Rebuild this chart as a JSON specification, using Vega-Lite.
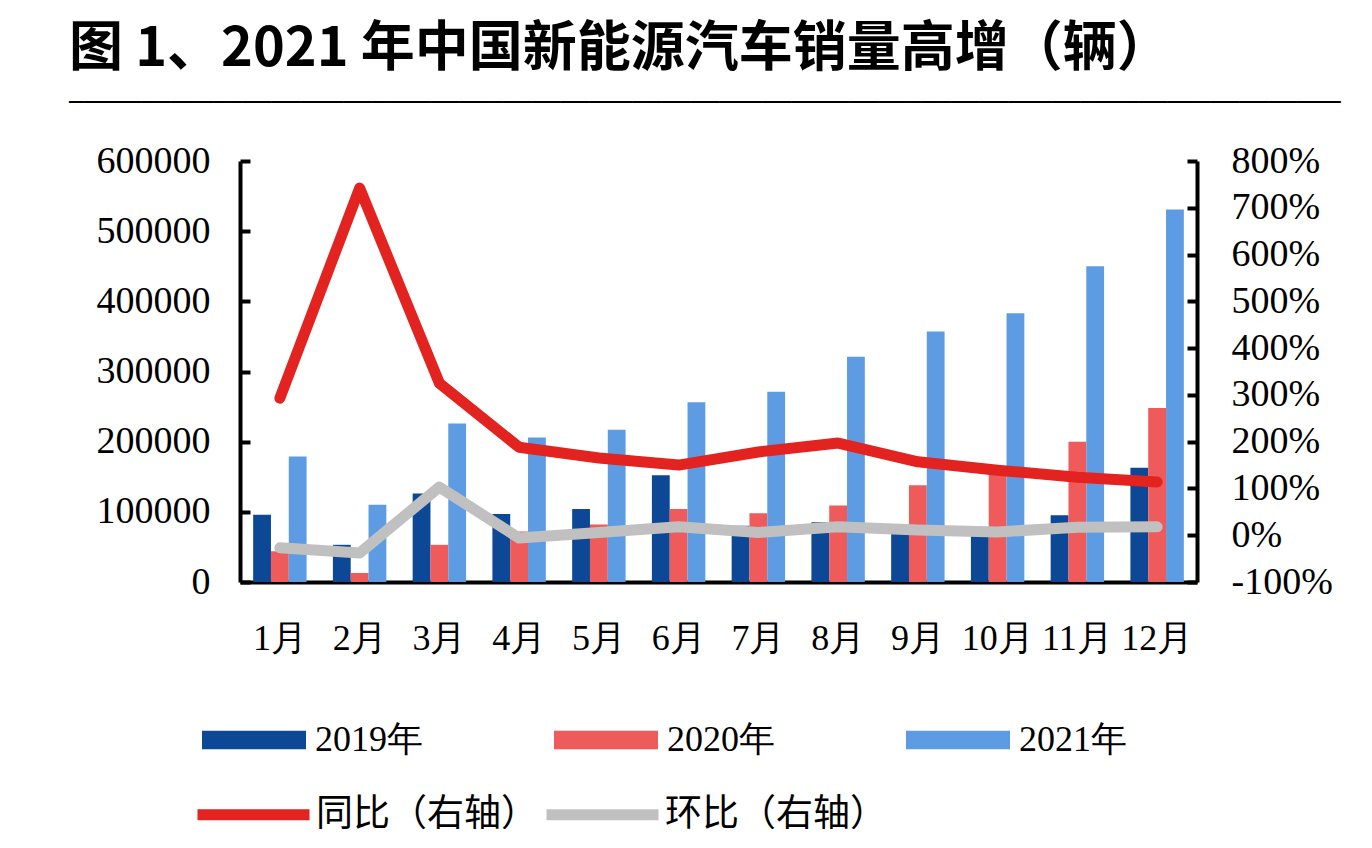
{
  "$schema": "https://vega.github.io/schema/vega-lite/v6.json",
  "width": 957,
  "height": 421,
  "autosize": {"type": "none"},
  "padding": {"left": 240, "top": 161, "right": 175, "bottom": 266},
  "background": "white",
  "config": {"view": {"stroke": null}, "font": "Liberation Serif"},
  "title": {
    "text": "图 1、2021 年中国新能源汽车销量高增（辆）",
    "subtitle": "────────────────────────────────────────────────────────────────────────────────────────",
    "anchor": "start",
    "frame": "group",
    "orient": "top",
    "dx": -171,
    "offset": 27,
    "font": "Noto Sans CJK SC",
    "fontSize": 54,
    "fontWeight": "bold",
    "color": "#000000",
    "subtitleFont": "DejaVu Sans Mono",
    "subtitleFontSize": 24,
    "subtitleColor": "#000000",
    "subtitlePadding": 14
  },
  "datasets": {
    "bars": [
      {"month": "1月", "year": "2019年", "sales": 96000},
      {"month": "2月", "year": "2019年", "sales": 53000},
      {"month": "3月", "year": "2019年", "sales": 126000},
      {"month": "4月", "year": "2019年", "sales": 97000},
      {"month": "5月", "year": "2019年", "sales": 104000},
      {"month": "6月", "year": "2019年", "sales": 152000},
      {"month": "7月", "year": "2019年", "sales": 80000},
      {"month": "8月", "year": "2019年", "sales": 85000},
      {"month": "9月", "year": "2019年", "sales": 80000},
      {"month": "10月", "year": "2019年", "sales": 75000},
      {"month": "11月", "year": "2019年", "sales": 95000},
      {"month": "12月", "year": "2019年", "sales": 163000},
      {"month": "1月", "year": "2020年", "sales": 44000},
      {"month": "2月", "year": "2020年", "sales": 13000},
      {"month": "3月", "year": "2020年", "sales": 53000},
      {"month": "4月", "year": "2020年", "sales": 72000},
      {"month": "5月", "year": "2020年", "sales": 82000},
      {"month": "6月", "year": "2020年", "sales": 104000},
      {"month": "7月", "year": "2020年", "sales": 98000},
      {"month": "8月", "year": "2020年", "sales": 109000},
      {"month": "9月", "year": "2020年", "sales": 138000},
      {"month": "10月", "year": "2020年", "sales": 160000},
      {"month": "11月", "year": "2020年", "sales": 200000},
      {"month": "12月", "year": "2020年", "sales": 248000},
      {"month": "1月", "year": "2021年", "sales": 179000},
      {"month": "2月", "year": "2021年", "sales": 110000},
      {"month": "3月", "year": "2021年", "sales": 226000},
      {"month": "4月", "year": "2021年", "sales": 206000},
      {"month": "5月", "year": "2021年", "sales": 217000},
      {"month": "6月", "year": "2021年", "sales": 256000},
      {"month": "7月", "year": "2021年", "sales": 271000},
      {"month": "8月", "year": "2021年", "sales": 321000},
      {"month": "9月", "year": "2021年", "sales": 357000},
      {"month": "10月", "year": "2021年", "sales": 383000},
      {"month": "11月", "year": "2021年", "sales": 450000},
      {"month": "12月", "year": "2021年", "sales": 531000}
    ],
    "lines": [
      {"month": "1月", "series": "同比（右轴）", "pct": 2.93},
      {"month": "2月", "series": "同比（右轴）", "pct": 7.42},
      {"month": "3月", "series": "同比（右轴）", "pct": 3.25},
      {"month": "4月", "series": "同比（右轴）", "pct": 1.88},
      {"month": "5月", "series": "同比（右轴）", "pct": 1.65},
      {"month": "6月", "series": "同比（右轴）", "pct": 1.5},
      {"month": "7月", "series": "同比（右轴）", "pct": 1.78},
      {"month": "8月", "series": "同比（右轴）", "pct": 1.97},
      {"month": "9月", "series": "同比（右轴）", "pct": 1.57},
      {"month": "10月", "series": "同比（右轴）", "pct": 1.39},
      {"month": "11月", "series": "同比（右轴）", "pct": 1.24},
      {"month": "12月", "series": "同比（右轴）", "pct": 1.14},
      {"month": "1月", "series": "环比（右轴）", "pct": -0.27},
      {"month": "2月", "series": "环比（右轴）", "pct": -0.38},
      {"month": "3月", "series": "环比（右轴）", "pct": 1.03},
      {"month": "4月", "series": "环比（右轴）", "pct": -0.06},
      {"month": "5月", "series": "环比（右轴）", "pct": 0.06},
      {"month": "6月", "series": "环比（右轴）", "pct": 0.18},
      {"month": "7月", "series": "环比（右轴）", "pct": 0.06},
      {"month": "8月", "series": "环比（右轴）", "pct": 0.18},
      {"month": "9月", "series": "环比（右轴）", "pct": 0.11},
      {"month": "10月", "series": "环比（右轴）", "pct": 0.07},
      {"month": "11月", "series": "环比（右轴）", "pct": 0.17},
      {"month": "12月", "series": "环比（右轴）", "pct": 0.18}
    ]
  },
  "layer": [
    {
      "data": {"name": "bars"},
      "mark": {"type": "bar"},
      "encoding": {
        "x": {
          "field": "month", "type": "nominal",
          "sort": ["1月","2月","3月","4月","5月","6月","7月","8月","9月","10月","11月","12月"],
          "scale": {"paddingInner": 0.33, "paddingOuter": 0.165},
          "axis": {
            "title": null, "orient": "bottom", "labelAngle": 0,
            "ticks": false, "domainColor": "#000000", "domainWidth": 4,
            "labelFont": "Liberation Serif", "labelFontSize": 36, "labelColor": "#000000",
            "labelPadding": 39, "labelBaseline": "top"
          }
        },
        "xOffset": {"field": "year", "type": "nominal", "sort": ["2019年","2020年","2021年"], "scale": {"paddingInner": 0, "paddingOuter": 0}},
        "y": {
          "field": "sales", "type": "quantitative",
          "scale": {"domain": [0, 600000], "nice": false, "zero": true},
          "axis": {
            "title": null, "orient": "left", "grid": false,
            "values": [0,100000,200000,300000,400000,500000,600000],
            "format": "d",
            "domainColor": "#000000", "domainWidth": 4,
            "tickColor": "#000000", "tickWidth": 4, "tickSize": -10,
            "labelFont": "Liberation Serif", "labelFontSize": 38, "labelColor": "#000000",
            "labelPadding": 40
          }
        },
        "fill": {
          "field": "year", "type": "nominal",
          "scale": {"domain": ["2019年","2020年","2021年"], "range": ["#0D4896","#EF5A5B","#5D9CE2"]},
          "legend": {
            "title": null, "orient": "none", "legendX": -38, "legendY": 527,
            "direction": "horizontal", "columns": 3, "columnPadding": 131,
            "padding": 0, "symbolType": "M-1,-0.18H1V0.18H-1Z", "symbolSize": 10816,
            "symbolStrokeWidth": 0, "symbolOffset": 0, "labelOffset": 9,
            "labelFont": "Liberation Serif", "labelFontSize": 36, "labelColor": "#000000",
            "labelLimit": 400
          }
        }
      }
    },
    {
      "data": {"name": "lines"},
      "mark": {"type": "line", "strokeWidth": 11, "strokeCap": "round", "strokeJoin": "round"},
      "encoding": {
        "x": {
          "field": "month", "type": "nominal",
          "sort": ["1月","2月","3月","4月","5月","6月","7月","8月","9月","10月","11月","12月"]
        },
        "y": {
          "field": "pct", "type": "quantitative",
          "scale": {"domain": [-1, 8], "nice": false, "zero": false},
          "axis": {
            "title": null, "orient": "right", "grid": false,
            "values": [-1,0,1,2,3,4,5,6,7,8],
            "labelExpr": "round(datum.value*100) + '%'",
            "domainColor": "#000000", "domainWidth": 4,
            "tickColor": "#000000", "tickWidth": 4, "tickSize": -10,
            "labelFont": "Liberation Serif", "labelFontSize": 38, "labelColor": "#000000",
            "labelPadding": 44
          }
        },
        "stroke": {
          "field": "series", "type": "nominal",
          "scale": {"domain": ["同比（右轴）","环比（右轴）"], "range": ["#E2231F","#C0C0C0"]},
          "legend": {
            "title": null, "orient": "none", "legendX": -48, "legendY": 592,
            "direction": "horizontal", "columns": 2, "columnPadding": -14,
            "padding": 0, "symbolType": "stroke", "symbolSize": 12544,
            "symbolStrokeWidth": 11, "symbolOffset": 0, "labelOffset": 1,
            "labelFont": "Noto Sans CJK SC", "labelFontSize": 37, "labelColor": "#000000",
            "labelLimit": 400
          }
        },
        "order": {"value": null}
      }
    }
  ],
  "resolve": {"scale": {"y": "independent"}}
}
